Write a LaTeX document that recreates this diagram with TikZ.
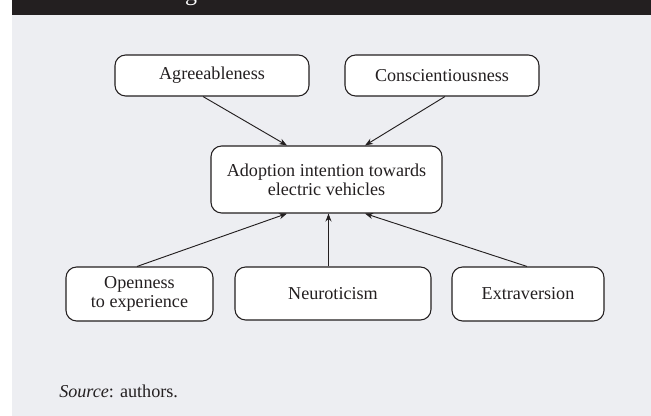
\documentclass[tikz,border=0pt]{standalone}
\usepackage{fontspec}
\setmainfont{Liberation Serif}
\usetikzlibrary{arrows.meta,calc}
\definecolor{panelgray}{RGB}{237,238,242}
\definecolor{inkblack}{RGB}{35,31,32}
\begin{document}
\begin{tikzpicture}[x=0.75pt,y=-0.75pt,
  trait/.style={draw=inkblack, fill=white, line width=0.8pt, rounded corners=8pt,
    align=center, text=inkblack, font=\fontsize{13.6}{14.4}\selectfont, inner sep=0pt},
  link/.style={draw=inkblack, line width=0.7pt, -{Stealth[length=6pt,width=4.5pt]}}]
\useasboundingbox (0,0) rectangle (651,416);
% panel background and header bar
\fill[panelgray] (12,15) rectangle (651,416);
\fill[inkblack] (12,0) rectangle (651,15);
\begin{scope}
  \clip (12,0) rectangle (651,15);
  \node[text=white, font=\fontsize{18}{20}\selectfont, anchor=base, inner sep=0pt] (titleg) at (191,1) {g};
\end{scope}
% personality traits and outcome
\node[trait, minimum width=145.5pt, minimum height=30.75pt] (agr) at (212,75.5) {Agreeableness};
\node[trait, minimum width=145.5pt, minimum height=30.75pt] (con) at (442,75.5) {Conscientiousness};
\node[trait, minimum width=173.25pt, minimum height=50.25pt] (adopt) at (326.5,179.5) {Adoption intention towards\\electric vehicles};
\node[trait, minimum width=110.25pt, minimum height=40.5pt] (open) at (139.5,294) {Openness\\to experience};
\node[trait, minimum width=147pt, minimum height=39.75pt] (neu) at (333,293.5) {Neuroticism};
\node[trait, minimum width=114pt, minimum height=40.5pt] (ext) at (528,294) {Extraversion};
% connectors
\draw[link] ($(agr.south)+(-9,0)$) -- ($(adopt.north)+(-39.5,0)$);
\draw[link] ($(con.south)+(3,0)$) -- ($(adopt.north)+(38.5,0)$);
\draw[link] ($(open.north)+(-2.5,0)$) -- ($(adopt.south)+(-39.5,0)$);
\draw[link] ($(neu.north)+(-4.5,0)$) -- ($(adopt.south)+(2,0)$);
\draw[link] ($(ext.north)+(-1,0)$) -- ($(adopt.south)+(38.5,0)$);
% source line
\node[anchor=base west, text=inkblack, font=\fontsize{13.6}{14.4}\selectfont, inner sep=0pt] (src) at (59,398) {\textit{Source}: authors.};
\end{tikzpicture}
\end{document}
